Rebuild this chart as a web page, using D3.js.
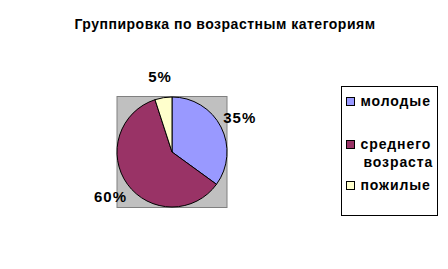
<!DOCTYPE html>
<html lang="ru">
<head>
<meta charset="UTF-8">
<title>Группировка по возрастным категориям</title>
<script src="https://cdn.jsdelivr.net/npm/d3@7"></script>
<style>
  body { margin: 0; background: #fff; }
  text { font-family: "Liberation Sans", Arial, sans-serif; }
</style>
</head>
<body>
<svg width="448" height="269"></svg>
<script>
    const title = "Группировка по возрастным категориям";
    const categories = ["молодые", "среднего возраста", "пожилые"];
    const legendLines = [["молодые"], ["среднего", "возраста"], ["пожилые"]];
    const shares = [35, 60, 5];
    const colors = ["#9999FF", "#993366", "#FFFFCC"];

    const svg = d3.select("svg");

    svg.append("text")
        .attr("x", 225).attr("y", 29)
        .attr("text-anchor", "middle")
        .attr("font-size", 14).attr("font-weight", "bold")
        .attr("letter-spacing", 0.5)
        .text(title);

    // plot area
    const cx = 172, cy = 152, r = 55;
    svg.append("rect")
        .attr("x", cx - r).attr("y", cy - r - 0.5)
        .attr("width", 2 * r).attr("height", 2 * r + 1)
        .attr("fill", "#C0C0C0").attr("stroke", "#808080");

    const pie = d3.pie().sort(null).value(d => d);
    const arcs = pie(shares);
    const arc = d3.arc().innerRadius(0).outerRadius(r);

    const g = svg.append("g").attr("transform", `translate(${cx},${cy})`);
    g.selectAll("path")
        .data(arcs)
        .enter()
        .append("path")
        .attr("d", arc)
        .attr("fill", (d, i) => colors[i])
        .attr("stroke", "#000")
        .attr("stroke-width", 1);

    // percentage labels outside the pie
    const labelArc = d3.arc().innerRadius(r + 21).outerRadius(r + 21);
    g.selectAll("text.pct")
        .data(arcs)
        .enter()
        .append("text")
        .attr("class", "pct")
        .attr("transform", d => {
            const c = labelArc.centroid(d);
            return `translate(${c[0]},${c[1]})`;
        })
        .attr("text-anchor", "middle")
        .attr("dy", "0.35em")
        .attr("font-size", 15).attr("font-weight", "bold")
        .attr("letter-spacing", 1)
        .text(d => d.data + "%");

    // legend
    const legend = svg.append("g").attr("transform", "translate(341.5,86.5)");
    legend.append("rect")
        .attr("width", 96).attr("height", 129)
        .attr("fill", "#fff").attr("stroke", "#000");

    const rowY = [15, 58, 99];
    categories.forEach((c, i) => {
        legend.append("rect")
            .attr("x", 5).attr("y", rowY[i] - 4)
            .attr("width", 8).attr("height", 8)
            .attr("fill", colors[i]).attr("stroke", "#000");
        legendLines[i].forEach((line, j) => {
            legend.append("text")
                .attr("x", j === 0 ? 19 : 22)
                .attr("y", rowY[i] + j * 18)
                .attr("dy", "0.35em")
                .attr("font-size", 14).attr("font-weight", "bold")
                .attr("letter-spacing", 0.9)
                .text(line);
        });
    });
</script>
</body>
</html>
